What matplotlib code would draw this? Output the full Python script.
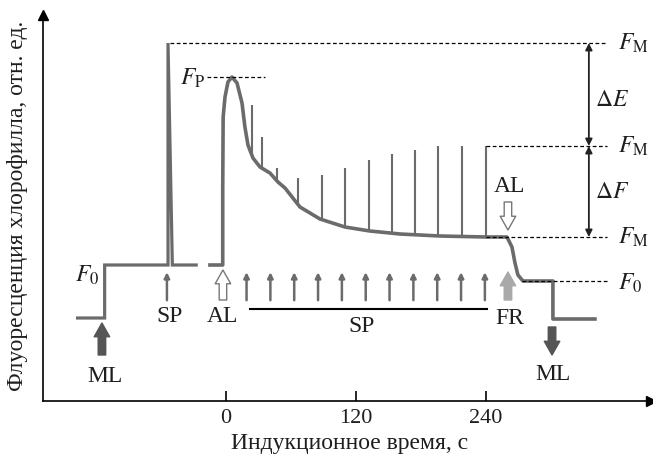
import numpy as np
import matplotlib
matplotlib.use("Agg")
import matplotlib.pyplot as plt

plt.rcParams['font.family'] = ['Liberation Serif', 'DejaVu Serif']
plt.rcParams['mathtext.fontset'] = 'stix'

# --- данные (время, с; флуоресценция, отн. ед.) ---
# темновой участок: без ML, с ML (F0), вспышка SP (FM)
dark_t = [-137, -112, -112, -53.5, -53.5, -49.5, -47, -27.5]
dark_f = [20.75, 20.75, 34, 34, 89.5, 34, 34, 34]

# индукционная кривая при действующем свете AL, затем FR и выключение ML
ind_t = [-14.8, -3.0, -3.0, -2.6, -0.9, 1.85, 5.5, 10.2, 14.8, 17.5, 20.3, 24.9,
         31.4, 40.6, 48.0, 54.5, 68.3, 86.8, 109.8, 132.9, 160.6, 197.5, 240,
         259.4, 264.0, 266.8, 269.5, 274.2, 301.8, 301.8, 340.6]
ind_f = [34, 34, 52.75, 71, 76, 79.75, 81, 79.5, 74.5, 68.5, 64, 60.75,
         58.5, 57, 54.75, 53.25, 48.5, 45.5, 43.5, 42.5, 41.75, 41.25, 41,
         41, 38.5, 34.5, 31.5, 30, 30, 20.5, 20.5]

# насыщающие вспышки на фоне AL: время и максимум
pulse_t = [24.0, 33.2, 47.1, 66.5, 88.6, 109.8, 132.0, 153.2, 174.5, 195.7, 217.8, 240.0]
pulse_top = [74, 66, 58.25, 55.75, 56.5, 58.25, 60.25, 61.75, 62.75, 63.75, 63.75, 63.75]

# маленькие стрелки SP
sp_arrow_t = [-54.5, 19, 41, 63, 85, 107, 129, 151, 173, 195, 217, 239]

levels = {'FM': 89.5, 'FP': 81, 'FM2': 63.75, 'FS': 41, 'F0': 30}
xticks = [0, 120, 240]

gray = '#6b6b6b'
txt = '#1e1e1e'

fig = plt.figure(figsize=(6.53, 4.57), dpi=100)
ax = fig.add_axes([0, 0, 1, 1])
ax.set_xlim(-208.6, 394.2)
ax.set_ylim(-14, 100.25)

# оси со стрелками
for s in ['top', 'right']:
    ax.spines[s].set_visible(False)
ax.spines['left'].set_position(('data', -169))
ax.spines['bottom'].set_position(('data', 0))
ax.spines['left'].set_bounds(0, 96.5)
ax.spines['bottom'].set_bounds(-169, 392)
ax.spines['left'].set_linewidth(1.2)
ax.spines['bottom'].set_linewidth(1.2)
ax.plot(392, 0, marker='>', color='k', markersize=7, clip_on=False)
ax.plot(-169, 96.5, marker='^', color='k', markersize=7, clip_on=False)
ax.set_xticks(xticks)
ax.set_yticks([])
ax.tick_params(axis='x', direction='in', length=7, width=1.2, pad=6,
               labelsize=16, labelcolor=txt)

# кривые
ax.plot(dark_t, dark_f, color=gray, lw=2.3, solid_joinstyle='miter')
ax.plot(ind_t, ind_f, color=gray, lw=2.6, solid_joinstyle='round')
pulse_base = np.interp(pulse_t, ind_t[6:], ind_f[6:])
ax.vlines(pulse_t, pulse_base, pulse_top, color=gray, lw=1.5)

# пунктирные уровни
dash = dict(color='k', lw=0.9, ls=(0, (3, 2)))
ax.plot([-51.7, 351.7], [levels['FM']] * 2, **dash)
ax.plot([-17.5, 36], [levels['FP']] * 2, **dash)
ax.plot([240, 351.7], [levels['FM2']] * 2, **dash)
ax.plot([240, 351.7], [levels['FS']] * 2, **dash)
ax.plot([273, 351.7], [levels['F0']] * 2, **dash)

# двусторонние стрелки ΔE и ΔF
for a, b in [(levels['FM'], levels['FM2']), (levels['FM2'], levels['FS'])]:
    ax.annotate('', xy=(335, b), xytext=(335, a),
                arrowprops=dict(arrowstyle='<|-|>', color='#222222', lw=1.3,
                                mutation_scale=10, shrinkA=0, shrinkB=0))

# стрелки вспышек
for t in sp_arrow_t:
    ax.annotate('', xy=(t, 32.2), xytext=(t, 25.2),
                arrowprops=dict(arrowstyle='-|>', color=gray, lw=1.8,
                                mutation_scale=8, shrinkA=0, shrinkB=0))
ax.plot([22.2, 241], [23, 23], color='k', lw=1.5)

# блочные стрелки
def block(t, f0, f1, fc, ec):
    ax.annotate('', xy=(t, f1), xytext=(t, f0),
                arrowprops=dict(arrowstyle='simple,head_length=0.55,head_width=0.62,tail_width=0.3',
                                mutation_scale=18, fc=fc, ec=ec, lw=1.0,
                                shrinkA=0, shrinkB=0))

block(-114.5, 11.5, 19.5, '#555555', '#555555')
block(301, 18.5, 11.5, '#555555', '#555555')
block(260.3, 25.25, 32.25, '#a9a9a9', '#a9a9a9')
block(-2.8, 25.25, 32.75, 'white', '#777777')
block(260.3, 49.75, 42.75, 'white', '#777777')

# подписи
fs = 17
kw = dict(color=txt, fontsize=fs, va='center')
ax.text(-128.3, 31.5, r'$F_0$', ha='center', **kw)
ax.text(-51.7, 21, 'SP', ha='center', **kw)
ax.text(-3.7, 21, 'AL', ha='center', **kw)
ax.text(-111.7, 6.25, 'ML', ha='center', **kw)
ax.text(125.5, 18.5, 'SP', ha='center', **kw)
ax.text(262, 20.75, 'FR', ha='center', **kw)
ax.text(302, 6.5, 'ML', ha='center', **kw)
ax.text(262, 53.75, 'AL', ha='center', **kw)
ax.text(-19, 80.75, r'$F_{\mathrm{P}}$', ha='right', **kw)
ax.text(340.6, 75.25, r'$\Delta E$', ha='left', **kw)
ax.text(340.6, 52, r'$\Delta F$', ha='left', **kw)
ax.text(361.5, levels['FM'], r'$F_{\mathrm{M}}$', ha='left', **kw)
ax.text(361.5, levels['FM2'], r'$F_{\mathrm{M}}$', ha='left', **kw)
ax.text(361.5, levels['FS'], r'$F_{\mathrm{M}}$', ha='left', **kw)
ax.text(361.5, levels['F0'] - 0.5, r'$F_0$', ha='left', **kw)

ax.text(114.5, -10.5, 'Индукционное время, с', ha='center', **kw)
ax.text(-192, 48.75, 'Флуоресценция хлорофилла, отн. ед.', ha='center',
        rotation=90, **kw)

fig.savefig('out.png', dpi=100)
